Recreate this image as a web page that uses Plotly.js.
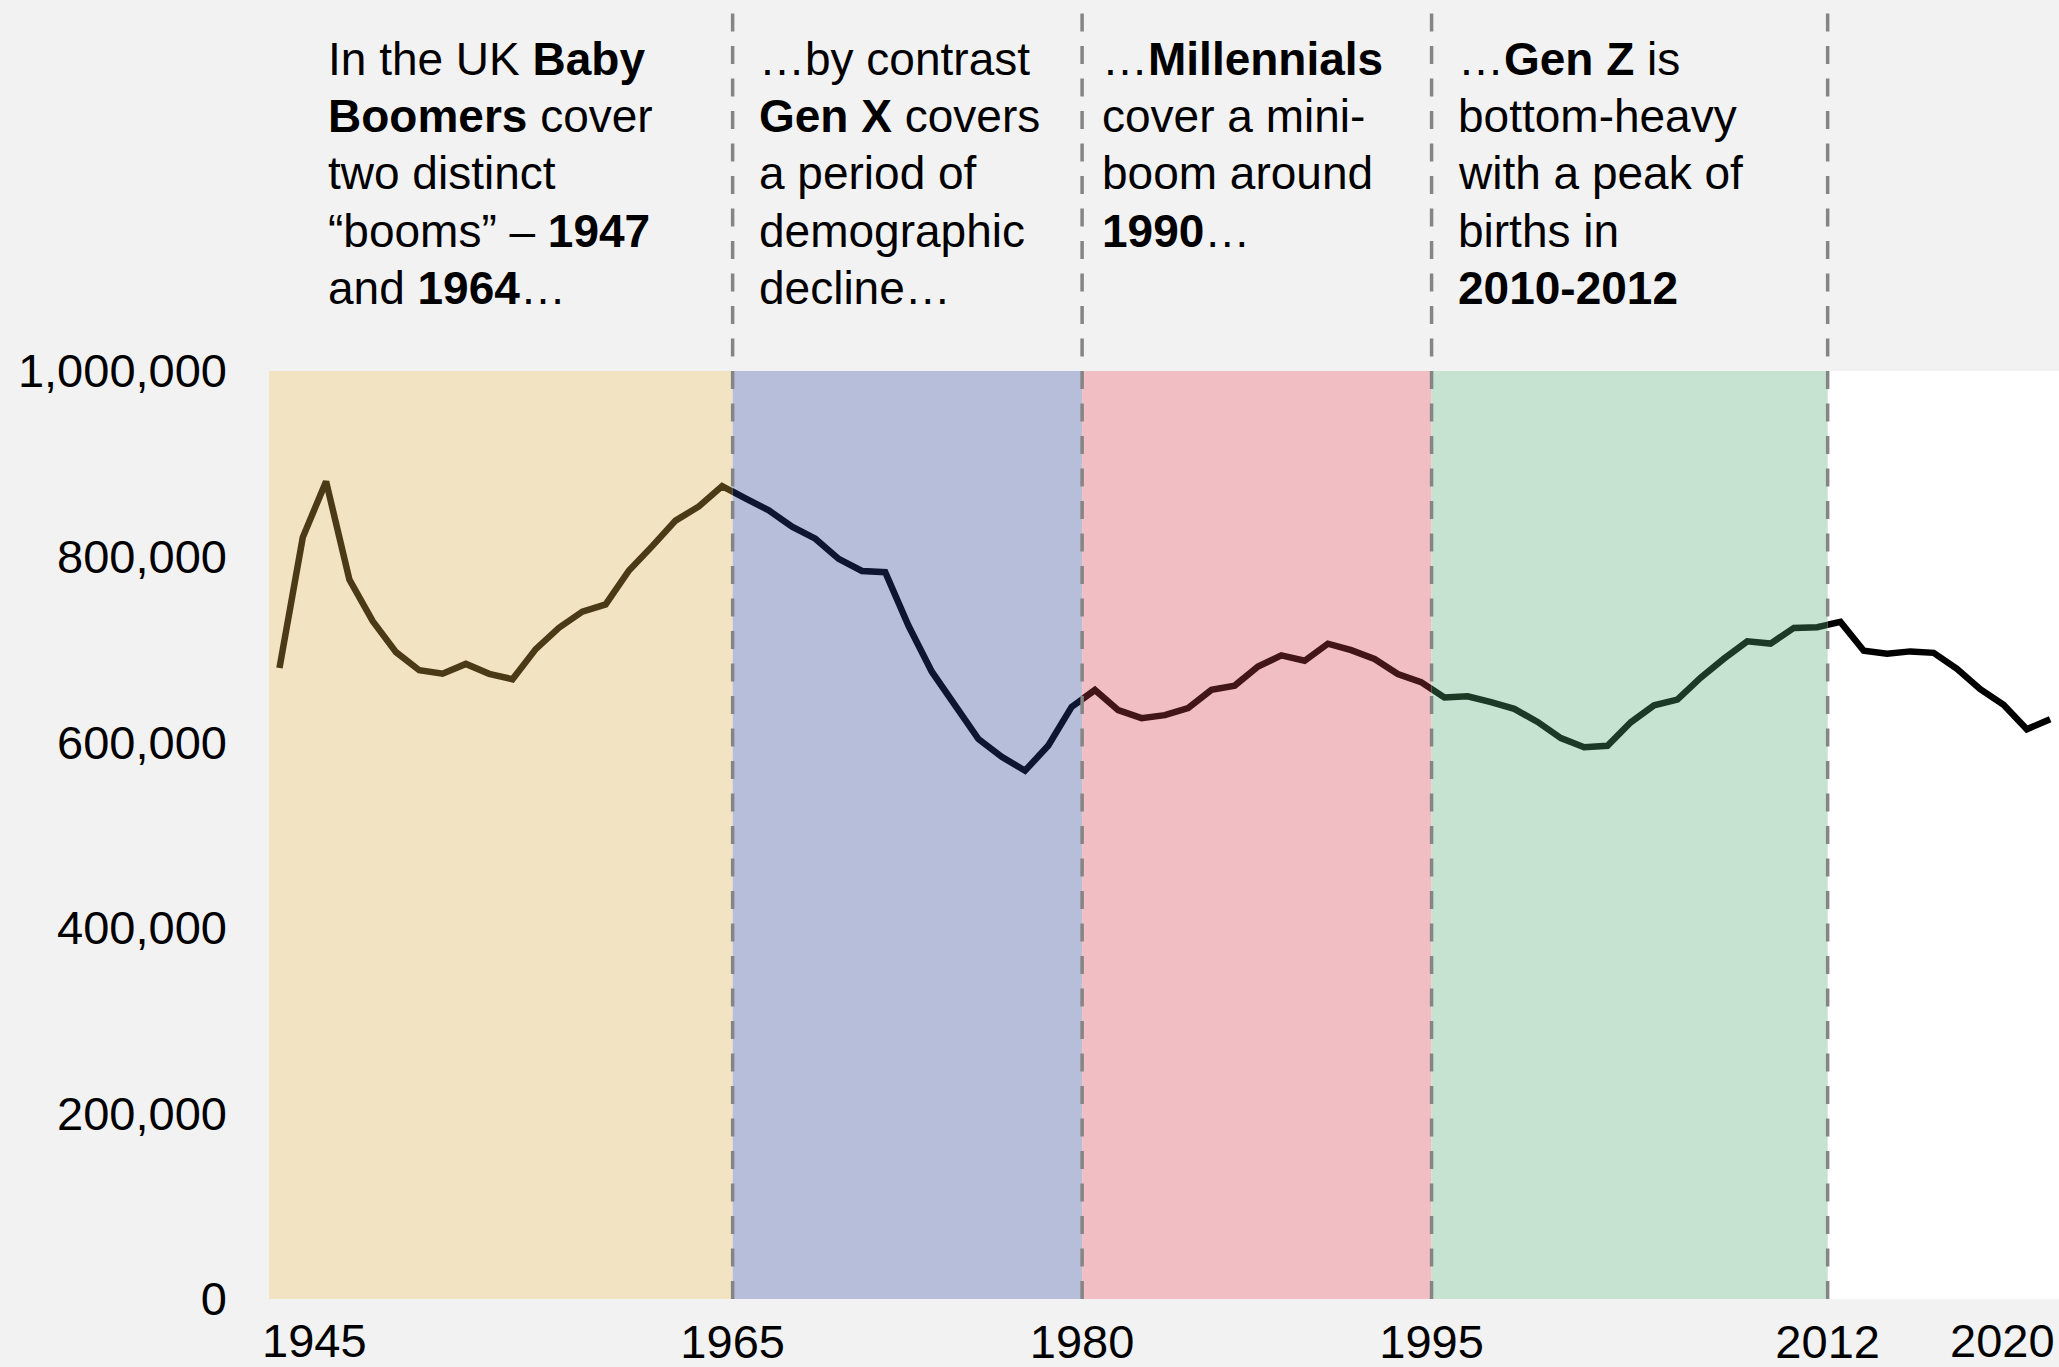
<!DOCTYPE html>
<html>
<head>
<meta charset="utf-8">
<script src="https://cdn.plot.ly/plotly-3.0.1.min.js"></script>
<style>
  html, body { margin: 0; padding: 0; background: #f2f2f2; }
  #chart { width: 2059px; height: 1367px; }
</style>
</head>
<body>
<div id="chart"></div>
<script>
// Live births, England & Wales, 1945-2021
const years = [
  1945,1946,1947,1948,1949,1950,1951,1952,1953,1954,1955,1956,1957,1958,1959,
  1960,1961,1962,1963,1964,1965,1966,1967,1968,1969,1970,1971,1972,1973,1974,
  1975,1976,1977,1978,1979,1980,1981,1982,1983,1984,1985,1986,1987,1988,1989,
  1990,1991,1992,1993,1994,1995,1996,1997,1998,1999,2000,2001,2002,2003,2004,
  2005,2006,2007,2008,2009,2010,2011,2012,2013,2014,2015,2016,2017,2018,2019,
  2020,2021
];
const births = [
  679937,820719,881026,775306,730518,697097,677529,673735,684372,673651,667811,700335,723381,740715,748501,
  785005,811281,838736,854055,875972,862725,849823,832164,819272,797538,784486,783155,725440,675953,639885,
  603445,584270,569259,596418,638028,656234,634492,625931,629134,636818,656417,661018,681511,693577,687725,
  706140,699217,689656,673467,664726,648138,649485,643095,635901,621872,604441,594634,596122,621469,639721,
  645835,669601,690013,708711,706248,723165,723913,729674,698512,695233,697852,696271,679106,657076,640370,
  613936,624828
];

// Generations
const genNames  = ["Baby Boomers", "Gen X", "Millennials", "Gen Z", "After Gen Z"];
const genStart  = [1945, 1965, 1980, 1995, 2012];
const genEnd    = [1965, 1980, 1995, 2012, 2022];
const genFill   = ["#f2e4c2", "#b7bed9", "#f0bec3", "#c6e3d2", "#ffffff"];
const genLine   = ["#4a3b16", "#0d1530", "#421519", "#1c3925", "#000000"];
const boundaryYears = [1965, 1980, 1995, 2012];

// Axis tick labels
const yTicks = [0, 200000, 400000, 600000, 800000, 1000000];
const xTicks = [1965, 1980, 1995, 2012];
const xEdgeLabels = ["1945", "2020"];

// Annotation texts, one array of lines per generation
const boomerLines = ["In the UK <b>Baby</b>", "<b>Boomers</b> cover", "two distinct", "\u201cbooms\u201d \u2013 <b>1947</b>", "and <b>1964</b>\u2026"];
const genXLines   = ["\u2026by contrast", "<b>Gen X</b> covers", "a period of", "demographic", "decline\u2026"];
const millLines   = ["\u2026<b>Millennials</b>", "cover a mini-", "boom around", "<b>1990</b>\u2026"];
const genZLines   = ["\u2026<b>Gen Z</b> is", "bottom-heavy", "with a peak of", "births in", "<b>2010-2012</b>"];
const textBlocks  = [boomerLines, genXLines, millLines, genZLines];
const textYears   = [1947.55, 1966.05, 1980.75, 1996.04];

// ---- layout geometry ----
const X0 = 1945.1, X1 = 2021.93;
const L = X1 - X0;
const MID = 0.55; // births plotted within their year
const xPos = years.map(y => y + MID);
const FONT = "Liberation Sans, Arial, Helvetica, sans-serif";
const PLOT_TOP = 371, PLOT_BOTTOM = 1299, PLOT_H = PLOT_BOTTOM - PLOT_TOP;
const pxToPaperY = px => (PLOT_BOTTOM - px) / PLOT_H;
const TEXT_TOP = 31, LINE_STEP = 57.2;

const traces = [];
const layout = {
  width: 2059, height: 1367,
  paper_bgcolor: "#f2f2f2",
  plot_bgcolor: "rgba(0,0,0,0)",
  margin: {l: 269, r: 0, t: PLOT_TOP, b: 1367 - PLOT_BOTTOM, pad: 0},
  showlegend: false,
  font: {family: FONT, color: "#000", size: 46},
  xaxis: {
    range: [X0, X1], domain: [0, 1], anchor: "y",
    tickmode: "array", tickvals: xTicks, ticktext: xTicks.map(String),
    showgrid: false, zeroline: false, showline: false, ticks: "",
    tickfont: {family: FONT, size: 47, color: "#000"},
    ticklabelstandoff: 11, fixedrange: true
  },
  yaxis: {
    range: [0, 1000000], anchor: "x",
    tickmode: "array", tickvals: yTicks, tickformat: ",",
    showgrid: false, zeroline: false, showline: false, ticks: "",
    tickfont: {family: FONT, size: 47, color: "#000"},
    ticklabelstandoff: 41, fixedrange: true
  },
  shapes: [],
  annotations: []
};

for (let i = 0; i < genNames.length; i++) {
  const a = Math.max(genStart[i], X0), b = Math.min(genEnd[i], X1);
  const axId = "x" + (i + 2);
  layout["xaxis" + (i + 2)] = {
    domain: [Math.max(0, (a - X0) / L), Math.min(1, (b - X0) / L)],
    range: [a, b], anchor: "y", visible: false, fixedrange: true
  };
  traces.push({
    type: "scatter", mode: "lines", name: genNames[i],
    x: xPos, y: births, xaxis: axId, yaxis: "y",
    line: {color: genLine[i], width: 6.5, shape: "linear"},
    hoverinfo: "skip"
  });
  const last = i === genNames.length - 1;
  layout.shapes.push({
    type: "rect", xref: "x", yref: last ? "paper" : "y",
    x0: genStart[i], x1: genEnd[i],
    y0: 0, y1: last ? 1 : 1000000,
    fillcolor: genFill[i], line: {width: 0}, layer: "below"
  });
}

boundaryYears.forEach(yr => {
  layout.shapes.push({
    type: "line", xref: "x", yref: "paper",
    x0: yr, x1: yr, y0: 0, y1: 1.41,
    line: {color: "#858585", width: 3.5, dash: "18px,14.5px"},
    layer: "above"
  });
});

textBlocks.forEach((lines, i) => {
  lines.forEach((t, k) => {
    layout.annotations.push({
      xref: "x", yref: "paper", x: textYears[i], y: pxToPaperY(TEXT_TOP + k * LINE_STEP),
      xanchor: "left", yanchor: "top", align: "left",
      text: t, showarrow: false,
      font: {family: FONT, size: 46, color: "#000"}
    });
  });
});

// Edge year labels, kept inside the figure
layout.annotations.push({
  xref: "paper", yref: "paper", x: 0, y: pxToPaperY(1340.5), xanchor: "left", yanchor: "middle",
  xshift: -9, text: xEdgeLabels[0], showarrow: false,
  font: {family: FONT, size: 47, color: "#000"}
});
layout.annotations.push({
  xref: "paper", yref: "paper", x: 1, y: pxToPaperY(1340.5), xanchor: "right", yanchor: "middle",
  xshift: -2, text: xEdgeLabels[1], showarrow: false,
  font: {family: FONT, size: 47, color: "#000"}
});

Plotly.newPlot("chart", traces, layout, {displayModeBar: false, staticPlot: true});
</script>
</body>
</html>
